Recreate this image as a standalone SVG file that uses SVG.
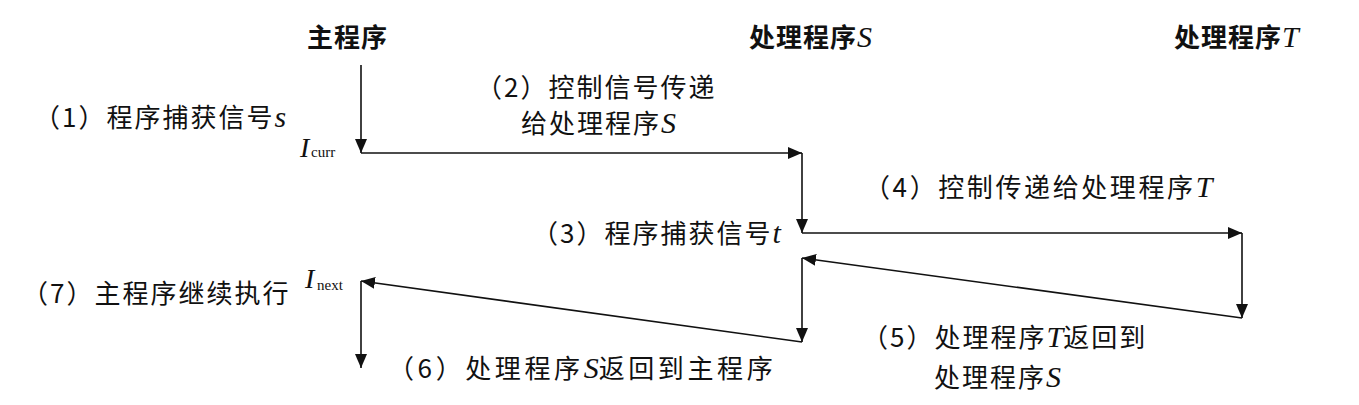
<svg xmlns="http://www.w3.org/2000/svg" width="1359" height="405" viewBox="0 0 1359 405">
<style>
.lbl{font-family:"Noto Sans CJK SC","Liberation Serif",serif;font-size:26px;letter-spacing:2px;fill:#111}
.hd{font-family:"Noto Sans CJK SC","Liberation Serif",sans-serif;font-size:26px;font-weight:bold;letter-spacing:1px;fill:#111}
.it{font-family:"Liberation Serif",serif;font-style:italic;font-size:30px;letter-spacing:0}
.sub{font-family:"Liberation Serif",serif;font-size:15px;fill:#111}
.ln{stroke:#111;stroke-width:1.6;fill:none;marker-end:url(#ah)}
</style>
<defs>
<marker id="ah" markerUnits="userSpaceOnUse" markerWidth="14" markerHeight="12" viewBox="0 0 14 12" refX="14" refY="6" orient="auto">
<path d="M0,0 L14,6 L0,12 Z" fill="#111"/>
</marker>
</defs>
<rect width="1359" height="405" fill="#fff"/>
<g id="main"><text class="hd" x="307" y="47">主程序</text></g>
<g id="handlerS"><text class="hd" x="749" y="47">处理程序<tspan class="it" font-weight="normal">S</tspan></text></g>
<g id="handlerT"><text class="hd" x="1174" y="47">处理程序<tspan class="it" font-weight="normal">T</tspan></text></g>
<g id="step1"><text class="lbl" x="34" y="127">（1）程序捕获信号<tspan class="it">s</tspan></text></g>
<g id="icurr"><text x="300" y="157" font-family="Liberation Serif" font-style="italic" font-size="28" fill="#111">I</text><text class="sub" x="311" y="157">curr</text></g>
<g id="step2"><text class="lbl" x="476" y="97">（2）控制信号传递</text><text class="lbl" x="521" y="133">给处理程序<tspan class="it">S</tspan></text></g>
<g id="step3"><text class="lbl" x="532" y="243">（3）程序捕获信号<tspan class="it">t</tspan></text></g>
<g id="step4"><text class="lbl" x="864" y="197" style="letter-spacing:2.6px">（4）控制传递给处理程序<tspan class="it">T</tspan></text></g>
<g id="step5"><text class="lbl" x="862" y="347">（5）处理程序<tspan class="it">T</tspan>返回到</text><text class="lbl" x="934" y="387">处理程序<tspan class="it">S</tspan></text></g>
<g id="step6"><text class="lbl" x="388" y="378" style="letter-spacing:3.6px">（6）处理程序<tspan class="it">S</tspan>返回到主程序</text></g>
<g id="step7"><text class="lbl" x="22" y="303">（7）主程序继续执行</text></g>
<g id="inext"><text x="305" y="288" font-family="Liberation Serif" font-style="italic" font-size="28" fill="#111">I</text><text class="sub" x="317" y="290">next</text></g>
<g id="connectors">
<line class="ln" x1="361" y1="65" x2="361" y2="153"/>
<line class="ln" x1="361" y1="153" x2="802" y2="153"/>
<line class="ln" x1="802" y1="153" x2="802" y2="233"/>
<line class="ln" x1="802" y1="233" x2="1242" y2="233"/>
<line class="ln" x1="1242" y1="233" x2="1242" y2="318"/>
<line class="ln" x1="1242" y1="318" x2="802" y2="258"/>
<line class="ln" x1="802" y1="258" x2="802" y2="342"/>
<line class="ln" x1="802" y1="342" x2="361" y2="281"/>
<line class="ln" x1="361" y1="281" x2="361" y2="368"/>
</g>
</svg>
